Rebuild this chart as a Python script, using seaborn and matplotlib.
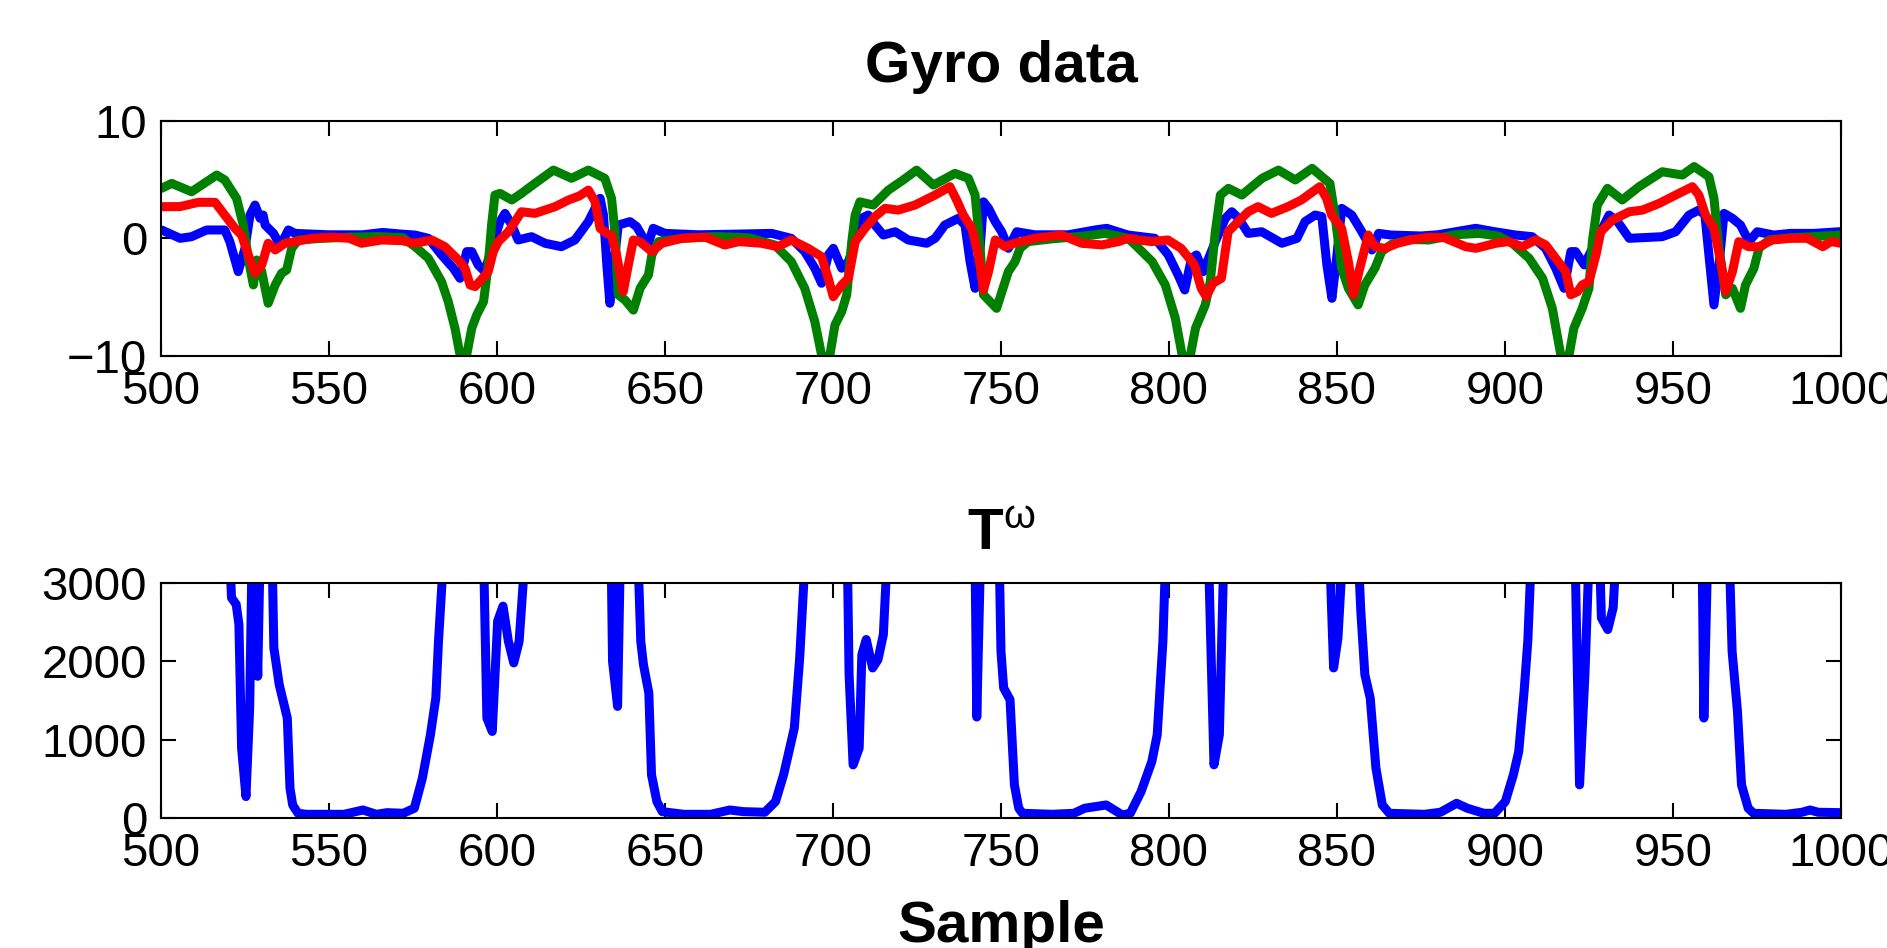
import numpy as np
import matplotlib
matplotlib.use("Agg")
import matplotlib.pyplot as plt
import seaborn as sns

# gyro channel 1 (blue)
gx_t = [500.2, 505.7, 509.1, 513.6, 519, 520.5, 523, 525, 526.5, 528, 529.5, 530.4, 531, 533.5, 535.4, 536.4,
        537.9, 539.9, 550, 560, 566, 572, 575.6, 579.6, 583.5, 587, 589, 591, 592.5, 594.4, 596.4, 598.4,
        600.9, 602.4, 604.4, 606.3, 610.3, 614.3, 619.2, 623.2, 627.2, 630.7, 631.7, 632.7, 633.6, 635.1,
        636.1, 639.6, 641.6, 643.6, 645.1, 646.5, 650, 660, 670, 681.7, 687.6, 691.6, 694.6, 696.6, 698.6,
        700.1, 702.6, 704.6, 706.6, 708.5, 710.5, 712.5, 715, 718.5, 722.4, 727.9, 730.4, 733.3, 737.3,
        739.3, 740.8, 742.3, 743.8, 744.8, 746.3, 748.3, 750.2, 752.2, 754.7, 760, 770, 778, 781.5, 787.8,
        795.8, 799.8, 802.7, 804.7, 806.7, 808.2, 810.2, 813.8, 816.8, 818.7, 820.7, 823.6, 827.6, 833.6,
        838.1, 840.5, 843.5, 845.5, 847, 848.5, 850, 851.4, 854.4, 857.4, 860.4, 862.4, 866, 875, 880,
        891.3, 897, 903.2, 908.1, 912.1, 915.1, 917.6, 919.6, 921, 923.6, 928, 931, 933.5, 937, 946.8,
        950.8, 954.8, 957.7, 959.5, 961.2, 962.2, 963.7, 965.2, 967.7, 970.1, 972.6, 975.1, 980, 985, 992, 1000]
gx_v = [0.71, 0.0, 0.14, 0.71, 0.71, -0.28, -2.83, -0.85, 1.98, 2.83, 1.7, 1.98, 1.13, 0.42, -0.57, -0.14,
        0.71, 0.42, 0.3, 0.3, 0.5, 0.35, 0.28, 0.0, -1.41, -2.54, -3.4, -1.13, -1.13, -2.26, -2.83, -0.85,
        1.42, 2.12, 1.13, -0.14, 0.14, -0.42, -0.71, -0.14, 1.42, 3.4, 1.98, -2.26, -5.52, -1.41,
        1.13, 1.42, 0.99, 0.0, -0.4, 0.85, 0.42, 0.3, 0.35, 0.42, 0.0, -1.13, -2.54, -3.82, -1.41,
        -0.85, -2.54, -1.98, -0.28, 1.7, 1.98, 1.13, 0.28, 0.56, -0.14, -0.42, 0.0, 1.13, 1.7,
        1.13, -1.98, -4.25, -0.85, 3.1, 2.55, 1.42, 0.56, -0.85, 0.56, 0.3, 0.3, 0.71, 0.85, 0.28,
        0.0, -1.41, -3.1, -4.39, -1.7, -1.41, -2.83, -0.28, 1.7, 2.26, 1.7, 0.42, 0.56, -0.42,
        0.0, 1.42, 1.98, 1.85, -2.26, -5.1, -1.41, 2.55, 1.98, 0.56, -0.99, 0.42, 0.28, 0.2, 0.3,
        0.85, 0.56, 0.28, 0.14, -0.85, -2.54, -4.25, -1.13, -1.13, -2.26, 0.28, 1.98, 1.42, 0.0, 0.14,
        0.56, 1.98, 2.4, 2.0, -2.83, -5.66, -2.26, 2.12, 1.7, 1.13, -0.28, 0.56, 0.28, 0.42, 0.42, 0.57]

# gyro channel 2 (green)
gy_t = [500.2, 503.2, 509.1, 516.6, 519, 522.5, 524.5, 526, 527.5, 528.5, 530, 531.9, 534, 535.9, 537.4,
        538.9, 540.9, 548, 556, 565, 572, 575.6, 579.6, 583.5, 585.5, 587.5, 589, 590, 591, 592.5, 594,
        596, 597.4, 598.4, 599.4, 600.9, 604.4, 607.3, 611.3, 616.8, 622.2, 627.2, 632.1, 634.1, 635.1,
        636.1, 638.1, 640.6, 642.6, 645.1, 646.1, 648.1, 655, 665, 675, 682.7, 687.6, 691.6, 694.6, 696.6,
        697.8, 699.1, 700.6, 702.6, 704.1, 705.6, 706.6, 708, 712, 716.5, 720.9, 724.9, 729.9, 736.3,
        740.3, 742.3, 743.8, 744.8, 748.7, 752.2, 754.2, 755.7, 758.1, 765, 775, 781, 787.8, 790, 795,
        798.9, 801.9, 803.9, 805.2, 806.4, 807.9, 810.8, 812.3, 813.8, 815.3, 817.7, 821.7, 827.7, 832.6,
        837.6, 842.6, 847.9, 849.4, 851.4, 853.4, 856.3, 858.3, 861.3, 863.3, 866.3, 872, 877.4, 885,
        892.3, 898, 902.2, 907.2, 911.2, 914.1, 916.6, 917.8, 919.1, 920.5, 923, 925, 926, 927.5, 930.5,
        934.9, 939.9, 946.8, 952.8, 956.3, 960.7, 962.2, 963.7, 965.7, 967.7, 970.1, 971.6, 974.1, 975.6,
        978.6, 985, 992, 1000]
gy_v = [4.25, 4.67, 3.96, 5.38, 4.96, 3.4, 1.13, -1.7, -3.96, -1.84, -2.83, -5.52, -3.96, -2.97, -2.69,
        -0.85, -0.14, 0.0, 0.1, 0.15, 0.05, -0.7, -1.7, -3.68, -5.38, -7.64, -9.9, -10.6, -9.9, -7.64, -6.5,
        -5.38, -2.26, 1.13, 3.68, 3.82, 3.26, 3.82, 4.67, 5.8, 5.1, 5.8, 5.1, 3.4, 0.57,
        -4.8, -5.24, -6.1, -4.25, -3.1, -1.41, -0.28, 0.0, 0.15, 0.05, -0.57, -1.98, -4.25, -7.08, -9.9,
        -10.6, -9.9, -7.36, -6.23, -4.8, -0.28, 1.98, 3.1, 2.83, 4.1, 4.96, 5.8, 4.53, 5.52,
        5.1, 3.68, -0.85, -4.8, -5.95, -2.83, -1.98, -0.85, -0.28, -0.05, 0.2, 0.42, 0.0, -0.57, -1.98,
        -3.96, -6.8, -9.9, -10.6, -9.9, -7.64, -5.66, -3.68, 0.57, 3.68, 4.25, 3.68, 5.1, 5.8,
        4.96, 5.95, 4.67, 1.98, -2.54, -4.25, -5.66, -3.96, -2.54, -1.13, -0.5, -0.1, -0.14, 0.3,
        0.42, 0.2, -0.42, -1.7, -3.4, -5.95, -9.9, -10.6, -9.9, -7.64, -5.95, -4.25, -0.28, 2.83, 4.25,
        3.26, 4.39, 5.66, 5.38, 6.1, 5.24, 3.4, -0.85, -4.8, -4.25, -5.95, -3.96, -2.54, -0.85,
        -0.14, 0.05, 0.15, 0.28]

# gyro channel 3 (red)
gz_t = [500.2, 505.7, 511.1, 516.1, 519, 522, 524, 526, 528, 530, 531.9, 534, 536.9, 539.9, 544.9, 551, 556,
        559.7, 565.7, 571.7, 575.6, 580.6, 584.5, 588.5, 590.5, 592, 593.5, 595.7, 597.4, 598.9, 600.4,
        603.4, 605.4, 607.3, 611.3, 617.3, 621.3, 624.5, 627.2, 629.2, 630.7, 632.7, 634.1, 635.6, 637.6,
        639.1, 640.6, 642.6, 646.1, 649.1, 655, 662, 667.8, 672, 678.7, 683.6, 687.6, 692.6, 696.6, 698.6,
        700.1, 702.6, 704.6, 706.6, 709.5, 712.5, 715.5, 719.4, 724.4, 730.4, 734.8, 736.8, 738.8, 741.3,
        743.3, 744.8, 746.3, 748.3, 751.2, 754, 760, 768, 774, 780, 785, 787.8, 794.7, 799.7, 803.6, 807.6,
        809.6, 811.1, 813.1, 815.6, 817.6, 820.6, 823.6, 826.5, 830.5, 835.4, 839.4, 844.9, 846.9, 848.4,
        851.4, 853.4, 854.9, 856.8, 859.3, 861.3, 864.3, 868, 872, 877.4, 882, 888.3, 891.3, 897.3, 901,
        905.2, 909.2, 912.1, 915.1, 918.1, 919.6, 921.6, 923, 925, 927.1, 928.5, 932, 937, 940.9, 945.9,
        950.8, 955.8, 957.7, 959.7, 962.2, 964.2, 965.7, 967.7, 969.6, 972.5, 975.6, 979.6, 985, 990,
        994.6, 997, 1000]
gz_v = [2.69, 2.7, 3.06, 3.06, 1.98, 0.85, 0.28, -1.41, -2.97, -2.26, -0.42, -0.99, -0.42, -0.28, 0.0, 0.1, 0.0,
        -0.42, -0.14, -0.2, -0.42, -0.14, -0.71, -1.84, -2.54, -3.96, -4.1, -3.4, -2.83, -1.13, -0.28,
        0.56, 1.42, 2.26, 2.12, 2.69, 3.26, 3.6, 4.1, 3.12, 0.85, 0.42, 0.28, -1.41, -4.53,
        -2.26, -0.14, -0.3, -1.13, -0.42, 0.0, 0.1, -0.57, -0.28, -0.42, -0.71, -0.14, -0.85, -1.56, -3.4,
        -4.96, -3.96, -3.4, -0.28, 0.85, 1.84, 2.55, 2.4, 2.83, 3.68, 4.39, 3.26, 1.98, 0.85,
        -1.41, -4.39, -2.83, -0.14, -0.71, -0.42, 0.0, 0.28, -0.42, -0.56, -0.28, 0.0, -0.28, -0.14, -0.85, -2.26,
        -4.25, -4.96, -3.82, -3.4, 0.56, 1.42, 2.26, 2.69, 2.12, 2.69, 3.26, 4.39, 3.4, 1.98,
        0.85, -1.98, -4.8, -2.54, 0.28, -0.71, -0.85, -0.42, -0.14, 0.1, 0.05, -0.71, -0.85, -0.42, -0.28,
        -0.71, -0.14, -0.56, -1.7, -2.83, -4.8, -4.53, -3.96, -3.68, -1.41, 0.56, 1.56, 2.26, 2.4, 2.97,
        3.68, 4.39, 3.68, 1.98, 0.85, -1.98, -4.53, -2.83, -0.28, -0.71, -0.71, -0.14, 0.0, 0.0,
        -0.71, -0.28, -0.42]

# T^omega (values above 3000 run off the top of the axes)
tw_t = [500, 519.5, 520.5, 521, 522.4, 523.2, 524, 525.3, 526.4, 527.2, 527.8, 528.8, 529.6, 532.8, 533.6,
        535.2, 537.6, 538.4, 539.2, 540.8, 543.3, 554.5, 560.1, 564.1, 567.3, 572.1, 575.4, 577.8, 580.2,
        581.8, 582.6, 584.2, 590, 596, 597, 598.6, 600.2, 601.8, 603.4, 605, 606.6, 608.3, 620, 634,
        634.4, 635.9, 636.7, 642, 642.8, 643.6, 645.2, 646, 647.6, 649.2, 655.6, 663.6, 669.3, 673.3,
        679.7, 682.9, 685.3, 688.5, 690.1, 691.7, 698, 704.3, 704.8, 706, 707.8, 708.6, 709.9, 711.8,
        713.4, 715, 716.1, 730, 742.3, 742.8, 743.9, 746, 749.5, 750, 750.8, 752.7, 754, 755.3, 756.4,
        765.2, 771.7, 774.9, 781.3, 783.7, 786.1, 788.5, 791.7, 794.9, 796.5, 798.2, 799, 806, 811.8,
        813.4, 815, 816.3, 830, 847.9, 849, 850.3, 851.6, 854, 856.4, 857.1, 858.3, 859.9, 861.6, 863.5,
        865.6, 876, 880.8, 885.6, 888.8, 893.7, 896.9, 900.1, 902.5, 904.1, 905.7, 906.8, 907.8, 914,
        920.9, 922.2, 923.8, 925, 927, 928.2, 928.7, 930.6, 932.2, 933, 945, 958.7, 959.2, 960.3, 963,
        966.8, 967.6, 969.2, 970.4, 972.4, 974, 983.6, 988.4, 990.8, 993.2, 1000]
tw_v = [6000, 6000, 3300, 2808, 2723, 2468, 894, 277, 1404, 3600, 3600, 1809, 3600, 4000, 2170,
        1702, 1277, 383, 170, 64, 51, 51, 106, 51, 72, 64, 128, 511, 1064,
        1532, 2255, 3400, 6000, 3400, 1277, 1106, 2511, 2702, 2255, 1979, 2255, 3300, 6000, 3300,
        2000, 1425, 3300, 3300, 2255, 1957, 1596, 553, 213, 85, 51, 51, 106, 85,
        77, 213, 553, 1149, 2043, 3300, 6000, 3300, 1830, 680, 894, 2085, 2277, 1915,
        2021, 2340, 3300, 6000, 3300, 1290, 3300, 4000, 3300, 2128, 1660, 1511, 426, 128, 64,
        51, 64, 128, 170, 106, 43, 64, 340, 723, 1064, 2255, 3300, 6000, 3300,
        681, 1064, 3300, 6000, 3300, 1915, 2298, 3300, 4000, 3300, 2638, 1830, 1532, 638, 170,
        64, 51, 77, 191, 128, 64, 64, 213, 553, 851, 1617, 2255, 3300, 6000,
        3300, 426, 1830, 3300, 4000, 3300, 2553, 2404, 2681, 3300, 6000, 3300, 1277, 3300, 4000,
        3300, 2128, 1362, 426, 128, 64, 51, 77, 106, 77, 72]

xticks = list(range(500, 1001, 50))

sns.set_style("ticks")
plt.rcParams['font.family'] = ['Liberation Sans', 'DejaVu Sans']
plt.rcParams['mathtext.fontset'] = 'custom'
plt.rcParams['mathtext.rm'] = 'Liberation Sans'
plt.rcParams['mathtext.bf'] = 'Liberation Sans:bold'
plt.rcParams['mathtext.it'] = 'Liberation Sans:italic'
plt.rcParams['text.color'] = 'black'
plt.rcParams['axes.labelcolor'] = 'black'

fig = plt.figure(figsize=(18.87, 9.48), dpi=100)
ax1 = fig.add_axes([0.0853, 0.6245, 0.8903, 0.2482])
ax2 = fig.add_axes([0.0853, 0.1368, 0.8903, 0.2485])

lw = 6.5
kw = dict(sort=False, estimator=None, linewidth=lw, solid_joinstyle='round', solid_capstyle='round')
sns.lineplot(x=gx_t, y=gx_v, ax=ax1, color='#0000ff', **kw)
sns.lineplot(x=gy_t, y=gy_v, ax=ax1, color='#008000', **kw)
sns.lineplot(x=gz_t, y=gz_v, ax=ax1, color='#ff0000', **kw)
sns.lineplot(x=tw_t, y=tw_v, ax=ax2, color='#0000ff', **kw)

ax1.set_ylim(-10, 10)
ax1.set_yticks([-10, 0, 10])
ax2.set_ylim(0, 3000)
ax2.set_yticks([0, 1000, 2000, 3000])

for ax in (ax1, ax2):
    ax.set_xlim(500, 1000)
    ax.set_xticks(xticks)
    ax.tick_params(direction='in', length=11, width=1.5, top=True, right=True,
                   labelsize=34, pad=10, colors='black')
    for s in ax.spines.values():
        s.set_visible(True)
        s.set_linewidth(1.5)
        s.set_color('black')
    ax.set_xlabel('')
    ax.set_ylabel('')

ax1.set_title('Gyro data', fontsize=42, fontweight='bold', pad=28, color='black')
ax2.set_title(r'$\mathbf{T}^{\mathrm{ω}}$', fontsize=42, pad=24, color='black')
ax2.set_xlabel('Sample', fontsize=42, fontweight='bold', labelpad=17, color='black')

fig.savefig('out.png', dpi=100)
